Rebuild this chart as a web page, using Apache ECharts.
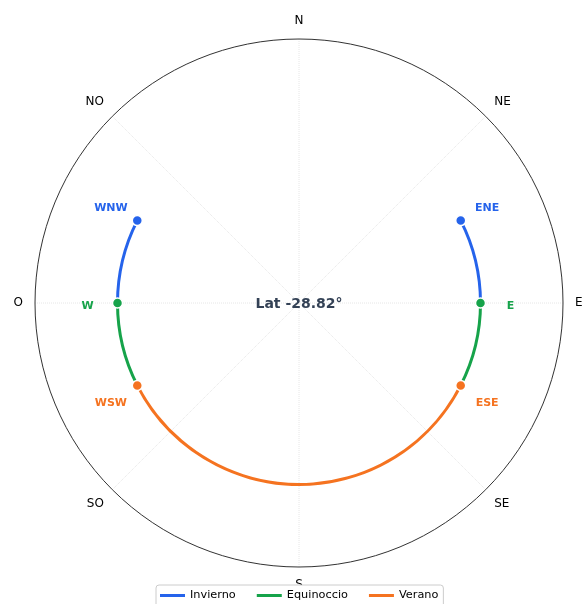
<!DOCTYPE html>
<html><head><meta charset="utf-8">
<script src="https://cdn.jsdelivr.net/npm/echarts@6/dist/echarts.min.js"></script>
<style>html,body{margin:0;padding:0;background:#fff}#c{width:584px;height:604px}</style>
</head><body><div id="c"></div>
<script>
// ---- data ----
const compassLabels = ['N','NE','E','SE','S','SO','O','NO'];
const compassAngles = [0,45,90,135,180,225,270,315];
const latitudeText = 'Lat -28.82°';
// sunrise / sunset azimuths (degrees from N, clockwise)
const pointNames = ['ENE','E','ESE','WSW','W','WNW'];
const pointAz    = [63.0, 90.0, 117.0, 243.0, 270.0, 297.0];
const pointSeason= ['Invierno','Equinoccio','Verano','Verano','Equinoccio','Invierno'];
// arc segments along the horizon ring: [season, startAz, endAz]
const segSeason = ['Invierno','Equinoccio','Verano','Equinoccio','Invierno'];
const segStart  = [63.0, 90.0, 117.0, 243.0, 270.0];
const segEnd    = [90.0, 117.0, 243.0, 270.0, 297.0];
const seasons = ['Invierno','Equinoccio','Verano'];
const seasonColor = {Invierno:'#2563eb', Equinoccio:'#16a34a', Verano:'#f57320'};

// ---- chart ----
const ringCats = ['0','1','2','3','4','5','6','7'];
const RING = 5, LABEL_RING = 6;
function onRing(idx, v){ return ringCats.map((c,i)=> i===idx ? v : '-'); }

const series = [];
series.push({type:'bar', coordinateSystem:'polar', stack:'ring', name:'_base',
  data:onRing(RING, segStart[0]), barWidth:3, itemStyle:{color:'rgba(0,0,0,0)'}, silent:true, z:2});
segSeason.forEach((s,i)=>{
  series.push({type:'bar', coordinateSystem:'polar', stack:'ring', name:s,
    data:onRing(RING, segEnd[i]-segStart[i]), barWidth:3,
    itemStyle:{color:seasonColor[s]}, z:2});
});
pointNames.forEach((n,i)=>{
  const s = pointSeason[i];
  const side = Math.sin(pointAz[i]*Math.PI/180) > 0 ? 1 : -1;
  series.push({type:'scatter', coordinateSystem:'polar', name:s,
    data:[[RING, pointAz[i]]], symbolSize:10,
    itemStyle:{color:seasonColor[s], borderColor:'#fff', borderWidth:1.5, opacity:1}, z:5});
  series.push({type:'scatter', coordinateSystem:'polar', name:s,
    data:[[LABEL_RING, pointAz[i]]], symbolSize:0,
    itemStyle:{opacity:1},
    label:{show:true, position:'inside', formatter:n, color:seasonColor[s], offset:[-3*side, 3],
      fontFamily:'DejaVu Sans', fontWeight:'bold', fontSize:11}, z:6});
});

const chart = echarts.init(document.getElementById('c'), null, {renderer:'canvas'});
chart.setOption({
  animation:false,
  backgroundColor:'#fff',
  polar:{center:[299,303], radius:[0,264]},
  angleAxis:{type:'value', min:0, max:360, interval:45, startAngle:90, clockwise:true,
    axisLine:{show:true, lineStyle:{color:'#333', width:1}},
    axisTick:{show:false},
    axisLabel:{show:true, margin:12, align:'center', verticalAlign:'middle',
      color:'#000', fontFamily:'DejaVu Sans', fontSize:12,
      formatter:(v)=>{const k=compassAngles.indexOf(v); return k>=0?compassLabels[k]:'';}},
    splitLine:{show:true, lineStyle:{color:'#e6e6e6', width:1, type:'dotted'}}
  },
  radiusAxis:{type:'category', data:ringCats, axisLine:{show:false}, axisTick:{show:false},
    axisLabel:{show:false}, splitLine:{show:false}, splitArea:{show:false}},
  legend:{data:seasons.map(s=>({name:s, icon:'rect', itemStyle:{color:seasonColor[s]}})),
    top:585, left:156, itemWidth:25, itemHeight:3, itemGap:21,
    padding:[5,5,10,4], borderColor:'#ccc', borderWidth:1, borderRadius:3, backgroundColor:'#fff',
    textStyle:{fontFamily:'DejaVu Sans', fontSize:11.3, color:'#000'}},
  graphic:[{type:'text', z:10,
    style:{text:latitudeText, x:299, y:304, textAlign:'center', textVerticalAlign:'middle',
      font:'bold 14px "DejaVu Sans"', fill:'#334155'}}],
  series:series
});
</script></body></html>
